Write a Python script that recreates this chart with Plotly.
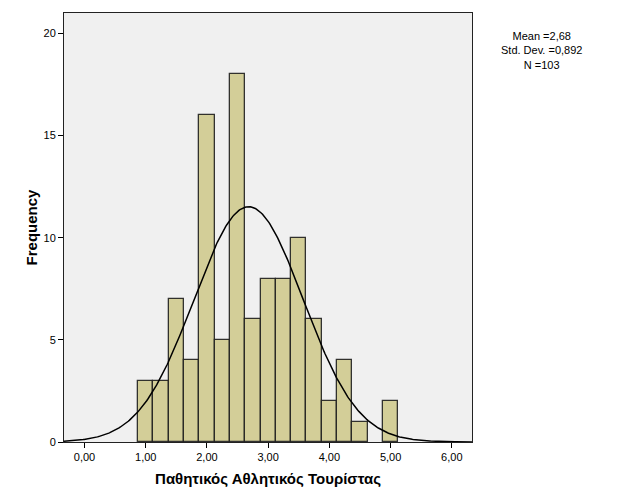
import numpy as np
import plotly.graph_objects as go

bin_centers = [1.0, 1.25, 1.5, 1.75, 2.0, 2.25, 2.5, 2.75, 3.0, 3.25, 3.5, 3.75, 4.0, 4.25, 4.5, 4.75, 5.0]
counts = [3, 3, 7, 4, 16, 5, 18, 6, 8, 8, 10, 6, 2, 4, 1, 0, 2]
bin_width = 0.25
mean = 2.68
std = 0.892
n = 103
x_ticks = [0, 1, 2, 3, 4, 5, 6]
y_ticks = [0, 5, 10, 15, 20]

xs = [c for c, k in zip(bin_centers, counts) if k > 0]
ys = [k for k in counts if k > 0]

fig = go.Figure()
fig.add_trace(go.Bar(
    x=xs, y=ys, width=bin_width,
    marker=dict(color="#D3CE98", line=dict(color="rgba(30,30,30,0.9)", width=1.3)),
    showlegend=False, hoverinfo="x+y"))

xc = np.linspace(-0.34, 6.34, 400)
yc = n * bin_width * np.exp(-0.5 * ((xc - mean) / std) ** 2) / (std * np.sqrt(2 * np.pi))
fig.add_trace(go.Scatter(x=xc, y=yc, mode="lines", line=dict(color="black", width=1.5),
                         showlegend=False, hoverinfo="skip"))

fig.update_layout(
    width=629, height=504,
    margin=dict(l=56, r=165, t=5, b=70),
    paper_bgcolor="white", plot_bgcolor="#F0F0F0",
    separators=",.",
    font=dict(family="Liberation Sans, Arial, sans-serif", size=11, color="black"),
    bargap=0,
    xaxis=dict(range=[-0.335, 6.33], tickvals=x_ticks, tickformat=".2f",
               ticks="outside", ticklen=5, tickcolor="black",
               showgrid=False, zeroline=False, showline=True, linecolor="#222", linewidth=1, mirror=True,
               title=dict(text="<b>Παθητικός Αθλητικός Τουρίστας</b>", font=dict(size=15), standoff=11)),
    yaxis=dict(range=[0, 21], tickvals=y_ticks,
               ticks="outside", ticklen=5, tickcolor="black",
               showgrid=False, zeroline=False, showline=True, linecolor="#222", linewidth=1, mirror=True,
               title=dict(text="<b>Frequency</b>", font=dict(size=15), standoff=2)),
    annotations=[dict(text="Mean =2,68<br>Std. Dev. =0,892<br>N =103", xref="paper", yref="paper",
                      x=1.17, y=0.966, xanchor="center", yanchor="top", showarrow=False,
                      align="center", font=dict(size=11))],
)

fig.write_html("out.html")
